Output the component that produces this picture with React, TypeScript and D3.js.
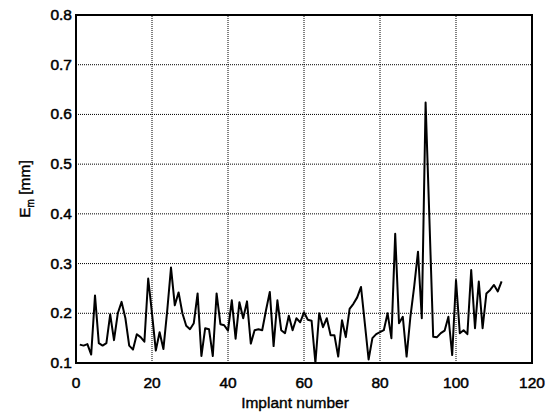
import React, { useEffect, useRef } from 'react';
import * as d3 from 'd3';

// implant number 1..112, error E_m in mm
const implantNumbers: number[] = d3.range(1, 113);
const errorValues: number[] = [
  0.137, 0.135, 0.138, 0.117, 0.236, 0.140, 0.135, 0.140, 0.198, 0.146,
  0.200, 0.223, 0.190, 0.135, 0.127, 0.158, 0.152, 0.143, 0.270, 0.200,
  0.125, 0.162, 0.128, 0.205, 0.292, 0.216, 0.242, 0.200, 0.175, 0.168,
  0.180, 0.240, 0.114, 0.170, 0.168, 0.114, 0.240, 0.178, 0.176, 0.165,
  0.226, 0.149, 0.222, 0.190, 0.224, 0.139, 0.166, 0.168, 0.166, 0.206,
  0.243, 0.134, 0.226, 0.166, 0.160, 0.195, 0.166, 0.190, 0.182, 0.202,
  0.187, 0.185, 0.100, 0.200, 0.172, 0.190, 0.156, 0.156, 0.113, 0.186,
  0.152, 0.209, 0.219, 0.232, 0.253, 0.180, 0.107, 0.150, 0.158, 0.162,
  0.166, 0.200, 0.150, 0.360, 0.180, 0.193, 0.113, 0.193, 0.254, 0.324,
  0.190, 0.624, 0.390, 0.153, 0.152, 0.160, 0.165, 0.193, 0.116, 0.267,
  0.160, 0.166, 0.158, 0.287, 0.170, 0.264, 0.170, 0.240, 0.247, 0.257,
  0.244, 0.264,
];
const xTicks: number[] = [0, 20, 40, 60, 80, 100, 120];
const yTicks: number[] = [0.1, 0.2, 0.3, 0.4, 0.5, 0.6, 0.7, 0.8];

const App = () => {
  const svgRef = useRef<SVGSVGElement>(null);
  const width = 560, height = 414;
  const margin = { top: 15, right: 28, bottom: 51, left: 76 };
  const font = '"Liberation Sans", Arial, Helvetica, sans-serif';

  useEffect(() => {
    const svg = d3.select(svgRef.current);
    svg.selectAll('*').remove();

    const x = d3.scaleLinear().domain([0, 120]).range([margin.left, width - margin.right]);
    const y = d3.scaleLinear().domain([0.1, 0.8]).range([height - margin.bottom, margin.top]);

    svg.append('rect').attr('width', width).attr('height', height).attr('fill', 'white');

    // dotted grid
    const grid = svg.append('g')
      .attr('stroke', '#000')
      .attr('stroke-width', 1)
      .attr('stroke-dasharray', '1,1');
    grid.selectAll('line.v')
      .data(xTicks.slice(1, -1))
      .join('line')
      .attr('x1', d => x(d)).attr('x2', d => x(d))
      .attr('y1', y(0.1)).attr('y2', y(0.8));
    grid.selectAll('line.h')
      .data(yTicks.slice(1, -1))
      .join('line')
      .attr('class', 'h')
      .attr('x1', x(0)).attr('x2', x(120))
      .attr('y1', d => y(d)).attr('y2', d => y(d));

    const line = d3.line<number>()
      .x((d, i) => x(implantNumbers[i]))
      .y(d => y(d));

    svg.append('path')
      .datum(errorValues)
      .attr('fill', 'none')
      .attr('stroke', '#000')
      .attr('stroke-width', 2)
      .attr('stroke-linejoin', 'round')
      .attr('d', line);

    svg.append('rect')
      .attr('x', x(0)).attr('y', y(0.8))
      .attr('width', x(120) - x(0)).attr('height', y(0.1) - y(0.8))
      .attr('fill', 'none').attr('stroke', '#000').attr('stroke-width', 2);

    svg.append('g')
      .selectAll('text')
      .data(xTicks)
      .join('text')
      .attr('x', d => x(d))
      .attr('y', y(0.1) + 25)
      .attr('text-anchor', 'middle')
      .attr('font-family', font)
      .attr('font-size', 15.5)
      .attr('stroke', '#000').attr('stroke-width', 0.5)
      .text(d => d);

    svg.append('g')
      .selectAll('text')
      .data(yTicks)
      .join('text')
      .attr('x', x(0) - 4)
      .attr('y', d => y(d) + 5)
      .attr('text-anchor', 'end')
      .attr('font-family', font)
      .attr('font-size', 15.5)
      .attr('stroke', '#000').attr('stroke-width', 0.5)
      .text(d => d.toFixed(1));

    svg.append('text')
      .attr('x', 295)
      .attr('y', 408)
      .attr('text-anchor', 'middle')
      .attr('font-family', font)
      .attr('font-size', 15.5)
      .attr('stroke', '#000').attr('stroke-width', 0.4)
      .text('Implant number');

    const yl = svg.append('text')
      .attr('transform', `translate(30,${(y(0.1) + y(0.8)) / 2}) rotate(-90)`)
      .attr('text-anchor', 'middle')
      .attr('font-family', font)
      .attr('font-size', 15.5)
      .attr('stroke', '#000').attr('stroke-width', 0.4);
    yl.append('tspan').text('E');
    yl.append('tspan').attr('font-size', 10).attr('dy', 4).text('m');
    yl.append('tspan').attr('dy', -4).text(' [mm]');
  }, []);

  return (
    <svg ref={svgRef} width={width} height={height}
      style={{ position: 'absolute', left: 0, top: 0 }} />
  );
};

export default App;
